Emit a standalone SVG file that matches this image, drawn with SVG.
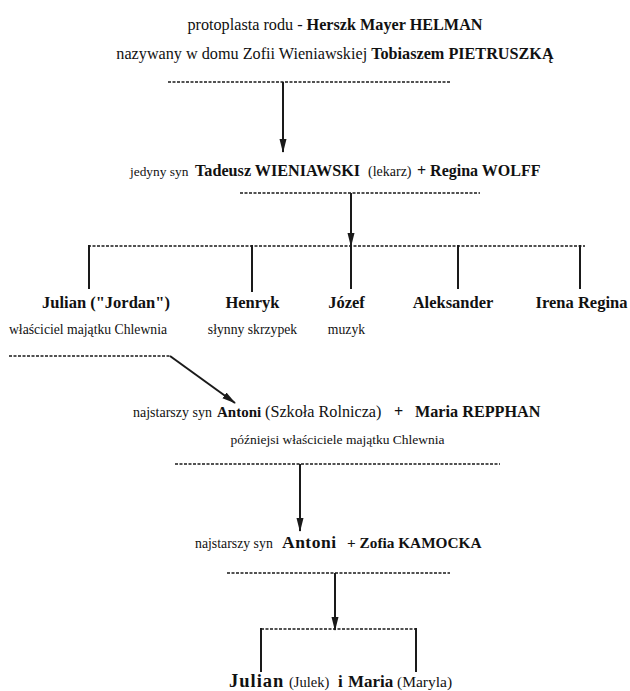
<svg xmlns="http://www.w3.org/2000/svg" width="630" height="691" viewBox="0 0 630 691" font-family="'Liberation Serif', 'Times New Roman', serif">
<style>
text{font-family:'Liberation Serif','Times New Roman',serif;fill:#111}
.b{font-weight:bold}
.n{font-size:16.5px;font-weight:bold}
.sub{font-size:13.7px}
.dash{stroke:#1a1a1a;stroke-width:1.5;stroke-dasharray:3 1.5;fill:none}
.ln{stroke:#1a1a1a;stroke-width:2;fill:none}
.arr{stroke:#1a1a1a;stroke-width:2;fill:none;marker-end:url(#ah)}
</style>
<defs>
<marker id="ah" viewBox="0 0 14 8" refX="13" refY="4" markerWidth="7" markerHeight="4" markerUnits="strokeWidth" orient="auto">
<path d="M0,0.5 L14,4 L0,7.5 Z" fill="#1a1a1a"/>
</marker>
</defs>
<g id="connectors">
<line class="dash" x1="168" y1="82" x2="450" y2="82"/>
<line class="arr" x1="283" y1="82" x2="283" y2="152"/>
<line class="dash" x1="240" y1="193" x2="480" y2="193"/>
<line class="arr" x1="351" y1="193" x2="351" y2="246"/>
<line class="dash" x1="88" y1="246" x2="585" y2="246"/>
<line class="ln" x1="89" y1="245" x2="89" y2="289"/>
<line class="ln" x1="252" y1="245" x2="252" y2="292"/>
<line class="ln" x1="351" y1="245" x2="351" y2="289"/>
<line class="ln" x1="458" y1="245" x2="458" y2="289"/>
<line class="ln" x1="580" y1="245" x2="580" y2="289"/>
<line class="dash" x1="9" y1="356" x2="170" y2="356"/>
<line class="arr" x1="170" y1="356" x2="235" y2="403"/>
<line class="dash" x1="175" y1="464" x2="500" y2="464"/>
<line class="arr" x1="300" y1="464" x2="300" y2="531"/>
<line class="dash" x1="227" y1="573" x2="450" y2="573"/>
<line class="arr" x1="335" y1="573" x2="335" y2="630"/>
<line class="dash" x1="261" y1="629" x2="416" y2="629"/>
<line class="ln" x1="261" y1="628" x2="261" y2="672"/>
<line class="ln" x1="416" y1="628" x2="416" y2="672"/>
</g>
<g id="helman">
<text x="335" y="30" text-anchor="middle" font-size="16.2">protoplasta rodu - <tspan class="b">Herszk Mayer HELMAN</tspan></text>
<text x="335" y="59" text-anchor="middle" font-size="16.2">nazywany w domu Zofii Wieniawskiej <tspan class="b">Tobiaszem PIETRUSZKĄ</tspan></text>
</g>
<g id="tadeusz">
<text y="176" font-size="16"><tspan x="130" font-size="13.4">jedyny syn</tspan><tspan x="195" class="b" font-size="16.2">Tadeusz WIENIAWSKI</tspan><tspan x="368" font-size="14">(lekarz)</tspan><tspan x="417" class="b">+ Regina WOLFF</tspan></text>
</g>
<g id="julian">
<text x="106" y="308" text-anchor="middle" class="n">Julian ("Jordan")</text>
<text x="88" y="334" text-anchor="middle" class="sub">właściciel majątku Chlewnia</text>
</g>
<g id="henryk">
<text x="252.5" y="308" text-anchor="middle" class="n">Henryk</text>
<text x="252.5" y="334" text-anchor="middle" class="sub">słynny skrzypek</text>
</g>
<g id="jozef">
<text x="346.5" y="308" text-anchor="middle" class="n">Józef</text>
<text x="346.5" y="334" text-anchor="middle" class="sub">muzyk</text>
</g>
<g id="aleksander">
<text x="453" y="308" text-anchor="middle" class="n">Aleksander</text>
</g>
<g id="irena">
<text x="581.5" y="308" text-anchor="middle" class="n">Irena Regina</text>
</g>
<g id="antoni1">
<text y="417" font-size="16.2"><tspan x="133" font-size="14">najstarszy syn</tspan><tspan x="217" class="b" font-size="15">Antoni</tspan><tspan x="265">(Szkoła Rolnicza)</tspan><tspan x="394" class="b">+</tspan><tspan x="415" class="b">Maria REPPHAN</tspan></text>
<text x="337.5" y="444" text-anchor="middle" font-size="13.5">późniejsi właściciele majątku Chlewnia</text>
</g>
<g id="antoni2">
<text y="548" font-size="15.3"><tspan x="195" font-size="13.8">najstarszy syn</tspan><tspan x="282" class="b" font-size="17.5" letter-spacing="0.5">Antoni</tspan><tspan x="347" class="b">+ Zofia KAMOCKA</tspan></text>
</g>
<g id="children">
<text y="687" font-size="17"><tspan x="229" class="b" font-size="18.5" letter-spacing="1">Julian</tspan><tspan x="289" font-size="14.5">(Julek)</tspan><tspan x="338" class="b">i</tspan><tspan x="348" class="b">Maria</tspan><tspan x="397" font-size="15.5">(Maryla)</tspan></text>
</g>
</svg>
